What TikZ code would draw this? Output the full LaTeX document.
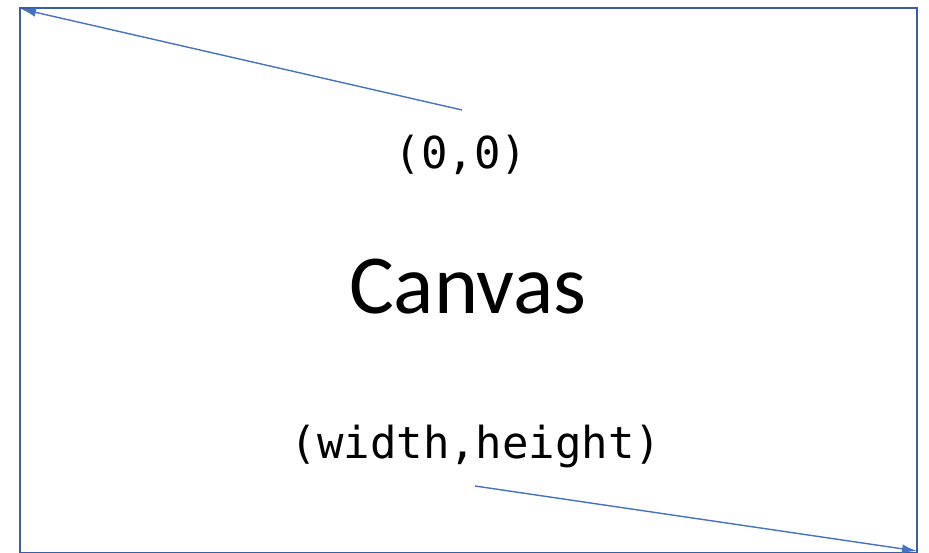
\documentclass[tikz,border=0pt]{standalone}
\usepackage{fontspec}
\setmainfont{Carlito}
\newfontfamily\codefont{DejaVu Sans Mono}
\usetikzlibrary{arrows.meta}
\definecolor{frameblue}{HTML}{3A5FA0}
\definecolor{arrowblue}{HTML}{4472C4}
\tikzset{
  coordtext/.style={font=\codefont\fontsize{44}{48}\selectfont, inner sep=0pt},
  pointer/.style={draw=arrowblue, line width=1.4pt, -{Latex[length=15pt,width=9pt]}}
}

\begin{document}
\begin{tikzpicture}[x=1pt, y=-1pt]
		\useasboundingbox (0,0) rectangle (929,553);
		\draw[frameblue, line width=2pt] (20,8) rectangle (917,553);
		\node[font=\fontsize{84}{90}\selectfont, inner sep=0pt] (canvas) at (468,287) {Canvas};
		\node[coordtext] (origin) at (461,155) {(0,0)};
		\node[coordtext] (size) at (476,447) {(width,height)};
		\coordinate (topleft) at (21,9);
		\coordinate (botright) at (917,551);
		\coordinate (originstart) at (462,110);
		\coordinate (sizestart) at (475,486);
		\draw[pointer] (originstart) -- (topleft);
		\draw[pointer] (sizestart) -- (botright);
	\end{tikzpicture}
\end{document}
